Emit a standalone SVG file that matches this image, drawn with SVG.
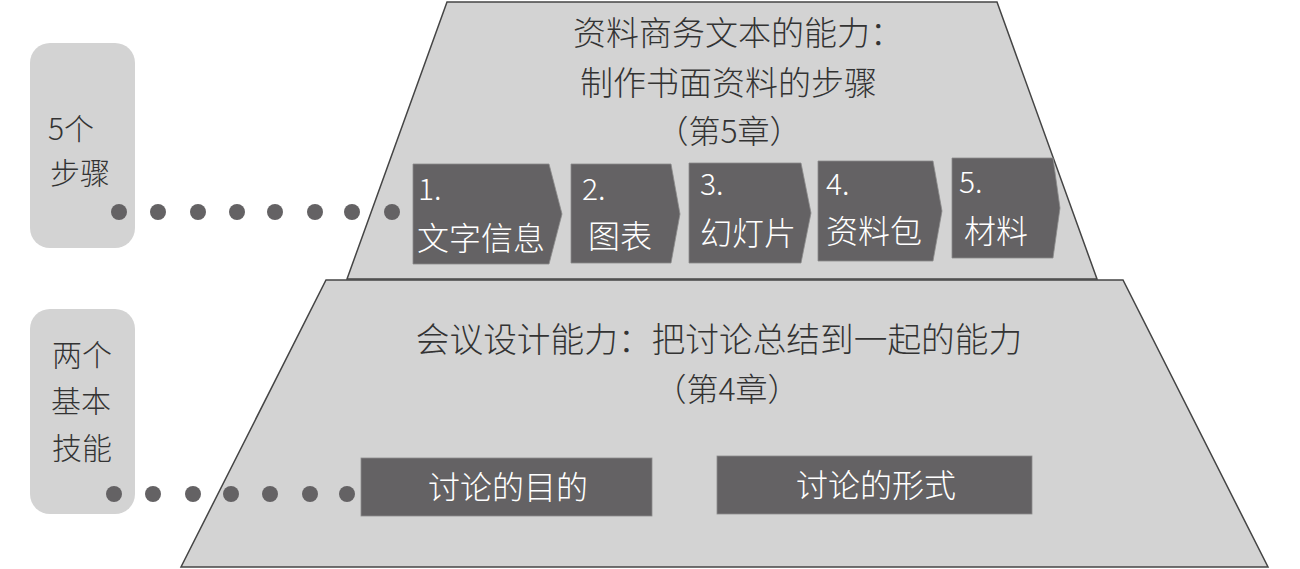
<svg xmlns="http://www.w3.org/2000/svg" width="1300" height="569" viewBox="0 0 1300 569">
  <defs>
    <style>
      .bg { fill: #ffffff; }
      .label-box { fill: #d3d3d3; }
      .trap { fill: #d3d3d3; stroke: #454545; stroke-width: 1.5; stroke-linejoin: miter; }
      .step { fill: #646264; stroke: #8c8c8c; stroke-width: 0.8; }
      .dot { fill: #646264; }
      .dark { fill: #333333; font-family: "Noto Sans CJK SC", "Liberation Sans", sans-serif; font-weight: 300; }
      .light { fill: #ffffff; font-family: "Noto Sans CJK SC", "Liberation Sans", sans-serif; font-weight: 300; }
    </style>
  </defs>
  <rect class="bg" x="0" y="0" width="1300" height="569"/>

  <!-- left label boxes -->
  <g id="label-steps">
    <rect class="label-box" x="30" y="43" width="105" height="205" rx="20" ry="20"/>
    <text class="dark" x="48" y="140" font-size="30">5个</text>
    <text class="dark" x="50" y="184" font-size="30">步骤</text>
  </g>
  <g id="label-skills">
    <rect class="label-box" x="30" y="309" width="105" height="205" rx="20" ry="20"/>
    <text class="dark" x="52" y="366" font-size="30">两个</text>
    <text class="dark" x="51" y="412" font-size="30">基本</text>
    <text class="dark" x="52" y="459" font-size="30">技能</text>
  </g>

  <!-- upper trapezoid: written materials -->
  <g id="level-documents">
    <polygon class="trap" points="447,2 997,2 1097,279 347,279"/>
    <text class="dark" x="573" y="45" font-size="33">资料商务文本的能力：</text>
    <text class="dark" x="580" y="95" font-size="33">制作书面资料的步骤</text>
    <text class="dark" x="729" y="143" font-size="32" text-anchor="middle">（第5章）</text>
  </g>

  <g id="step-1">
    <polygon class="step" points="413,164 549,164 562,214 549,264 413,264"/>
    <text class="light" x="418" y="200" font-size="30">1.</text>
    <text class="light" x="417" y="250" font-size="32">文字信息</text>
  </g>
  <g id="step-2">
    <polygon class="step" points="571,164 671,164 680,214 671,263 571,263"/>
    <text class="light" x="582" y="200" font-size="30">2.</text>
    <text class="light" x="588" y="248" font-size="32">图表</text>
  </g>
  <g id="step-3">
    <polygon class="step" points="689,163 801,163 811,213 801,263 689,263"/>
    <text class="light" x="700" y="195" font-size="30">3.</text>
    <text class="light" x="700" y="245" font-size="32">幻灯片</text>
  </g>
  <g id="step-4">
    <polygon class="step" points="818,161 933,161 942,211 933,261 818,261"/>
    <text class="light" x="826" y="195" font-size="30">4.</text>
    <text class="light" x="826" y="243" font-size="32">资料包</text>
  </g>
  <g id="step-5">
    <polygon class="step" points="952,158 1053,158 1060,208 1053,258 952,258"/>
    <text class="light" x="959" y="193" font-size="30">5.</text>
    <text class="light" x="964" y="243" font-size="32">材料</text>
  </g>

  <!-- lower trapezoid: meeting design -->
  <g id="level-meeting">
    <polygon class="trap" points="326,280 1123,280 1268,567 181,567"/>
    <text class="dark" x="719" y="352" font-size="33.7" text-anchor="middle">会议设计能力：把讨论总结到一起的能力</text>
    <text class="dark" x="727" y="401" font-size="32" text-anchor="middle">（第4章）</text>
  </g>
  <g id="discussion-purpose">
    <rect class="step" x="361" y="458" width="291" height="58"/>
    <text class="light" x="508" y="499" font-size="32" text-anchor="middle">讨论的目的</text>
  </g>
  <g id="discussion-form">
    <rect class="step" x="717" y="456" width="315" height="58"/>
    <text class="light" x="876" y="497" font-size="32" text-anchor="middle">讨论的形式</text>
  </g>

  <!-- dotted connectors -->
  <g id="connectors">
    <circle class="dot" cx="119" cy="212" r="8"/>
    <circle class="dot" cx="158" cy="212" r="8"/>
    <circle class="dot" cx="198" cy="212" r="8"/>
    <circle class="dot" cx="237" cy="212" r="8"/>
    <circle class="dot" cx="275" cy="212" r="8"/>
    <circle class="dot" cx="315" cy="212" r="8"/>
    <circle class="dot" cx="352" cy="212" r="8"/>
    <circle class="dot" cx="392" cy="212" r="8"/>
    <circle class="dot" cx="114" cy="494" r="8"/>
    <circle class="dot" cx="153" cy="494" r="8"/>
    <circle class="dot" cx="193" cy="494" r="8"/>
    <circle class="dot" cx="231" cy="494" r="8"/>
    <circle class="dot" cx="270" cy="494" r="8"/>
    <circle class="dot" cx="310" cy="494" r="8"/>
    <circle class="dot" cx="347" cy="494" r="8"/>
  </g>
</svg>
